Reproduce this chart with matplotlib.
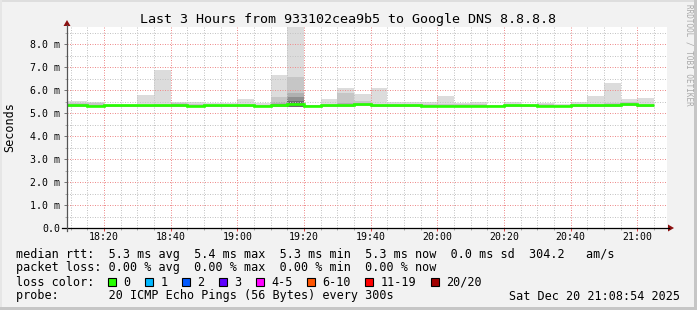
import matplotlib
matplotlib.use("Agg")
import matplotlib.pyplot as plt
from matplotlib.patches import Polygon, Rectangle
from matplotlib.lines import Line2D
from matplotlib.ticker import FixedLocator, MultipleLocator
import numpy as np

W, H, DPI = 697, 310, 100
FONT = "DejaVu Sans Mono"
plt.rcParams["font.family"] = [FONT]

# ---------------- data ----------------
title = "Last 3 Hours from 933102cea9b5 to Google DNS 8.8.8.8"
ylabel = "Seconds"
watermark = "RRDTOOL / TOBI OETIKER"

window_start = "18:08:54"
window_end = "21:08:54"
step_min = 5

bin_end = ["18:15", "18:20", "18:25", "18:30", "18:35", "18:40", "18:45",
           "18:50", "18:55", "19:00", "19:05", "19:10", "19:15", "19:20",
           "19:25", "19:30", "19:35", "19:40", "19:45", "19:50", "19:55",
           "20:00", "20:05", "20:10", "20:15", "20:20", "20:25", "20:30",
           "20:35", "20:40", "20:45", "20:50", "20:55", "21:00", "21:05"]

# median rtt (ms)
median = [5.33, 5.29, 5.33, 5.33, 5.33, 5.33, 5.33, 5.29, 5.33, 5.33, 5.33, 5.29,
          5.34, 5.38, 5.32, 5.33, 5.33, 5.38, 5.33, 5.33, 5.33,
          5.29, 5.29, 5.29, 5.29, 5.29, 5.33, 5.33, 5.29, 5.29, 5.33, 5.33, 5.33, 5.38, 5.33]
# smoke (ping distribution) in ms
smoke_min = [5.27, 5.25, 5.28, 5.28, 5.28, 5.28, 5.28, 5.25, 5.28, 5.28, 5.27, 5.25,
             5.28, 5.25, 5.27, 5.28, 5.28, 5.30, 5.28, 5.28, 5.28,
             5.25, 5.25, 5.26, 5.26, 5.26, 5.28, 5.28, 5.25, 5.24, 5.28, 5.28, 5.28, 5.32, 5.28]
smoke_max = [5.51, 5.46, 5.39, 5.39, 5.78, 6.87, 5.49, 5.46, 5.42, 5.42, 5.61, 5.42,
             6.65, 9.20, 5.36, 5.61, 6.07, 5.83, 6.09, 5.49, 5.49,
             5.46, 5.74, 5.42, 5.48, 5.36, 5.48, 5.41, 5.45, 5.38, 5.48, 5.74, 6.30, 5.61, 5.65]
smoke_hi = [5.45, 5.42, 5.36, 5.36, 5.37, 5.38, 5.44, 5.40, 5.37, 5.37, 5.40, 5.36,
            5.71, 6.58, 5.34, 5.40, 5.86, 5.52, 5.40, 5.38, 5.38,
            5.38, 5.40, 5.38, 5.40, 5.34, 5.40, 5.37, 5.38, 5.34, 5.40, 5.40, 5.45, 5.48, 5.40]
smoke_mid = [5.40, 5.36, 5.34, 5.34, 5.35, 5.35, 5.40, 5.34, 5.35, 5.35, 5.36, 5.33,
             5.50, 5.88, 5.33, 5.36, 5.45, 5.45, 5.36, 5.35, 5.35,
             5.33, 5.33, 5.33, 5.33, 5.32, 5.36, 5.35, 5.33, 5.32, 5.36, 5.36, 5.38, 5.42, 5.36]
smoke_lo = [None] * 12 + [5.40, 5.68] + [None] * 21
smoke_dark = [None] * 13 + [5.54] + [None] * 21

xtick_labels = ["18:20", "18:40", "19:00", "19:20", "19:40", "20:00", "20:20", "20:40", "21:00"]
ytick_values = [0, 1, 2, 3, 4, 5, 6, 7, 8]
ytick_labels = ["0.0", "1.0 m", "2.0 m", "3.0 m", "4.0 m", "5.0 m", "6.0 m", "7.0 m", "8.0 m"]
y_top = 8.74

row_rtt = "median rtt:  5.3 ms avg  5.4 ms max  5.3 ms min  5.3 ms now  0.0 ms sd  304.2   am/s"
row_loss = "packet loss: 0.00 % avg  0.00 % max  0.00 % min  0.00 % now"
row_color = "loss color:"
loss_labels = ["0", "1", "2", "3", "4-5", "6-10", "11-19", "20/20"]
loss_colors = ["#26ff00", "#00b8ff", "#0059ff", "#5e00ff", "#ff00ff", "#ff5500", "#ff0000", "#a10000"]
row_probe = "probe:       20 ICMP Echo Pings (56 Bytes) every 300s"
stamp = "Sat Dec 20 21:08:54 2025"


def to_min(s):
    parts = [int(p) for p in s.split(":")]
    sec = parts[2] if len(parts) > 2 else 0
    return (parts[0] - 18) * 60 + parts[1] + sec / 60.0


def fx(px):
    return px / W


def fy(py):
    return 1 - py / H


# ---------------- figure ----------------
fig = plt.figure(figsize=(W / DPI, H / DPI), dpi=DPI, facecolor="#f2f2f2")

# frame
fig.add_artist(Rectangle((0, fy(2)), 1, 2 / H, transform=fig.transFigure, color="#dedede", lw=0))
fig.add_artist(Rectangle((0, 0), 2 / W, 1, transform=fig.transFigure, color="#e6e6e6", lw=0))
fig.add_artist(Rectangle((fx(694), 0), 3 / W, 1, transform=fig.transFigure, color="#c6c6c6", lw=0))
fig.add_artist(Rectangle((0, 0), 1, 3 / H, transform=fig.transFigure, color="#c6c6c6", lw=0))

ax = fig.add_axes([fx(67), fy(228), fx(667) - fx(67), fy(27) - fy(228)])
ax.set_facecolor("white")
x_lo, x_hi = to_min(window_start), to_min(window_end)
ax.set_xlim(x_lo, x_hi)
ax.set_ylim(0, y_top)
for s in ax.spines.values():
    s.set_visible(False)

ends = np.array([to_min(t) for t in bin_end])
starts = ends - step_min
starts[0] = max(min(starts[0], x_lo), x_lo - step_min)  # first slot reaches the window start
starts[0] = x_lo
widths = ends - starts
mn = np.array(smoke_min)

layers = [(smoke_max, "#dcdcdc"), (smoke_hi, "#c6c6c6"), (smoke_mid, "#b0b0b0"),
          (smoke_lo, "#8f8f8f"), (smoke_dark, "#6a6a6a")]
for vals, col in layers:
    for i, v in enumerate(vals):
        if v is None or v <= mn[i]:
            continue
        ax.bar(starts[i], v - mn[i], bottom=mn[i], width=widths[i], align="edge",
               color=col, linewidth=0, zorder=2)

edges = np.append(starts, ends[-1])
vals = np.append(median, median[-1])
ax.step(edges, vals, where="post", color="#26ff00", lw=1.9, zorder=3,
        solid_joinstyle="miter", solid_capstyle="butt")

# grid
ax.set_axisbelow(False)
ax.xaxis.set_major_locator(FixedLocator([to_min(t) for t in xtick_labels]))
ax.xaxis.set_minor_locator(MultipleLocator(step_min))
ax.yaxis.set_major_locator(FixedLocator(ytick_values))
ax.yaxis.set_minor_locator(MultipleLocator(0.5))
ax.set_xticklabels(xtick_labels)
ax.set_yticklabels(ytick_labels)
ax.grid(which="minor", color="#c4c4c4", linestyle=(0, (1, 1.5)), lw=0.72)
ax.grid(which="major", color="#ee8c8c", linestyle=(0, (1, 1.5)), lw=0.72)

ax.tick_params(axis="x", which="major", length=2.2, width=0.72, color="#e04040",
               pad=0.9, labelsize=7.1, direction="out")
ax.tick_params(axis="x", which="minor", length=1.4, width=0.72, color="#aaaaaa", direction="out")
ax.tick_params(axis="y", which="major", length=2.2, width=0.72, color="#777777",
               pad=2.6, labelsize=7.1, direction="out")
ax.tick_params(axis="y", which="minor", length=1.4, width=0.72, color="#aaaaaa", direction="out")

# axis lines with arrows
fig.add_artist(Line2D([fx(62), fx(669)], [fy(228), fy(228)], transform=fig.transFigure,
                      color="black", lw=0.9))
fig.add_artist(Line2D([fx(67), fx(67)], [fy(231), fy(25)], transform=fig.transFigure,
                      color="#555555", lw=0.9))
fig.add_artist(Polygon([[fx(668), fy(224.5)], [fx(674), fy(228)], [fx(668), fy(231.5)]],
                       closed=True, transform=fig.transFigure, color="#8c1010", lw=0))
fig.add_artist(Polygon([[fx(63.5), fy(26)], [fx(67), fy(20)], [fx(70.5), fy(26)]],
                       closed=True, transform=fig.transFigure, color="#8c1010", lw=0))

# texts
fig.text(fx(348.5), fy(19), title, ha="center", va="center", fontsize=9.6, color="black")
fig.text(fx(10), fy(127.5), ylabel, ha="center", va="center", rotation=90, fontsize=8.5)
fig.text(fx(688.5), fy(4), watermark, ha="center", va="top", rotation=270,
         fontsize=5.5, color="#a8a8a8")

LS = 8.5
CH = 7.11
fig.text(fx(16), fy(254.5), row_rtt, ha="left", va="center", fontsize=LS)
fig.text(fx(16), fy(268), row_loss, ha="left", va="center", fontsize=LS)
fig.text(fx(16), fy(282), row_color, ha="left", va="center", fontsize=LS)
fig.text(fx(16), fy(296), row_probe, ha="left", va="center", fontsize=LS)
fig.text(fx(680), fy(296), stamp, ha="right", va="center", fontsize=LS)

bx = 108.3
for lab, col in zip(loss_labels, loss_colors):
    fig.add_artist(Rectangle((fx(bx), fy(286.3)), 8 / W, 8.4 / H, transform=fig.transFigure,
                             facecolor=col, edgecolor="black", lw=0.8))
    tx = bx + 15
    fig.text(fx(tx), fy(282), lab, ha="left", va="center", fontsize=LS)
    bx = tx + len(lab) * CH + 14.8

fig.savefig("out.png", dpi=DPI, facecolor=fig.get_facecolor())
